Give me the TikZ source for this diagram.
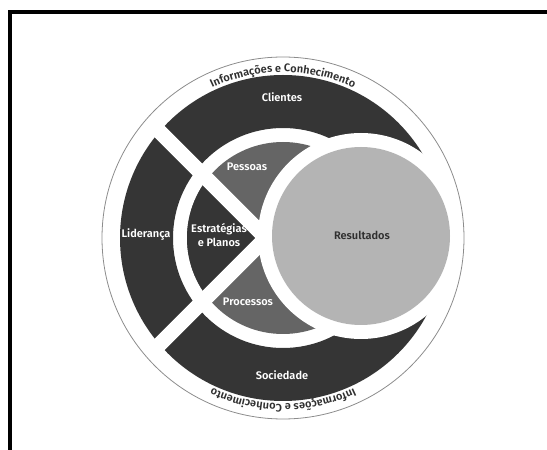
\documentclass[tikz,border=0pt]{standalone}
\usepackage{fontspec}
\setmainfont{Fira Sans}[BoldFont={Fira Sans SemiBold}]
\usetikzlibrary{decorations.text}

\definecolor{ringdark}{HTML}{353535}
\definecolor{midgray}{HTML}{656565}
\definecolor{resgray}{HTML}{B4B4B4}
\definecolor{rimgray}{HTML}{8C8C8C}
\definecolor{labeldark}{HTML}{303030}

\begin{document}
\begin{tikzpicture}[x=1pt,y=1pt,
  lbl/.style={text=white, font=\bfseries\fontsize{11}{13.5}\selectfont, align=center, inner sep=0pt},
  reslbl/.style={lbl, text=labeldark},
  cut/.style={white, line width=15pt},
  rimtext/.style={decorate, decoration={text along path, text align=center,
      text={|\bfseries\fontsize{11}{13}\selectfont\color{labeldark}|Informações e Conhecimento}}}]
\useasboundingbox (0,0) rectangle (547,450);

% centres: model circle, results circle, crossing of the two cuts
\coordinate (C) at (283,212);
\coordinate (R) at (361,214);
\coordinate (X) at (266,212);

% frame
\draw[line width=4pt, line join=miter] (10,-5) -- (10,438) -- (552,438);

% outer band: Clientes, Liderança, Sociedade
\fill[ringdark, even odd rule] (C) circle[radius=163] (C) circle[radius=110];

% inner disk: Pessoas, Processos, with Estratégias wedge
\fill[midgray] (C) circle[radius=96];
\begin{scope}
  \clip (C) circle[radius=96];
  \fill[ringdark] (X) -- ++(135:200) -- ++(0,-282.8) -- cycle;
\end{scope}

% the two diagonal cuts
\draw[cut] (X) -- ++(135:200);
\draw[cut] (X) -- ++(225:200);

% results circle with its white border
\fill[white] (R) circle[radius=103];
\fill[resgray] (R) circle[radius=89];

% thin rim
\draw[rimgray, line width=0.8pt] (C) circle[radius=181];

% rim texts
\path[rimtext] (C) ++(180:166) arc[start angle=180, end angle=0, radius=166];
\path[rimtext] (C) ++(0:166) arc[start angle=0, end angle=-180, radius=166];

% labels
\node[lbl] (clientes) at (282,353) {Clientes};
\node[lbl] (lideranca) at (146,215) {Liderança};
\node[lbl] (estrategias) at (219,215) {Estratégias\\e Planos};
\node[lbl] (pessoas) at (247,283) {Pessoas};
\node[lbl] (processos) at (248,148) {Processos};
\node[lbl] (sociedade) at (282,75) {Sociedade};
\node[reslbl] (resultados) at (362,215) {Resultados};
\end{tikzpicture}
\end{document}
